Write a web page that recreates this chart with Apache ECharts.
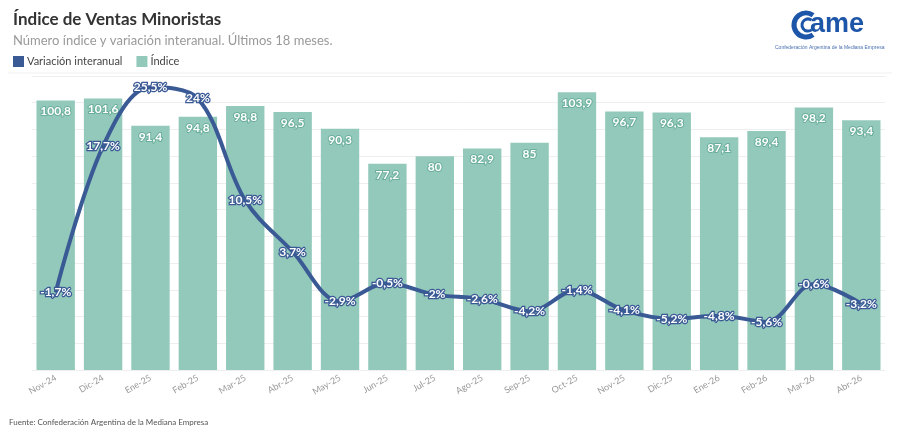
<!DOCTYPE html>
<html>
<head>
<meta charset="utf-8">
<script src="https://cdn.jsdelivr.net/npm/echarts@6/dist/echarts.min.js"></script>
<style>
  html, body { margin: 0; padding: 0; background: #fff; }
  #chart { width: 900px; height: 433px; }
</style>
</head>
<body>
<div id="chart"></div>
<script>
// datos
var meses = ['Nov-24', 'Dic-24', 'Ene-25', 'Feb-25', 'Mar-25', 'Abr-25', 'May-25', 'Jun-25', 'Jul-25',
    'Ago-25', 'Sep-25', 'Oct-25', 'Nov-25', 'Dic-25', 'Ene-26', 'Feb-26', 'Mar-26', 'Abr-26'];
var indice = [100.8, 101.6, 91.4, 94.8, 98.8, 96.5, 90.3, 77.2, 80, 82.9, 85, 103.9, 96.7, 96.3, 87.1, 89.4, 98.2, 93.4];
var variacion = [-1.7, 17.7, 25.5, 24, 10.5, 3.7, -2.9, -0.5, -2, -2.6, -4.2, -1.4, -4.1, -5.2, -4.8, -5.6, -0.6, -3.2];

var colorBarra = '#93c9bb';
var colorLinea = '#3a5a95';
var azulLogo = '#1d55a8';

function coma(v) {
    return String(v).replace('.', ',');
}

function iniciar(targetId) {
    var myChart = echarts.init(document.getElementById(targetId));
    myChart.setOption(opciones());
}

function opciones() {
    return {
        animation: false,
        textStyle: { fontFamily: 'Lato' },
        title: [{
            text: 'Índice de Ventas Minoristas',
            left: 8, top: 6,
            textStyle: { fontSize: 17, fontWeight: 'bold', color: '#333' }
        }, {
            text: 'Número índice y variación interanual. Últimos 18 meses.',
            left: 8, top: 29,
            textStyle: { fontSize: 13, fontWeight: 'normal', color: '#999' }
        }],
        legend: {
            left: 8, top: 51,
            icon: 'rect',
            itemWidth: 11, itemHeight: 11, itemGap: 14,
            textStyle: { fontSize: 11, color: '#444', padding: [0, 0, 0, -2] },
            data: ['Variación interanual', 'Índice']
        },
        graphic: [{
            type: 'line',
            shape: { x1: 8, y1: 73, x2: 892, y2: 73 },
            style: { stroke: '#f0f0f0', lineWidth: 1 }
        }, {
            // logo CAME: doble C y "ame"
            type: 'arc',
            shape: { cx: 806, cy: 25, r: 12, startAngle: Math.PI * 0.3, endAngle: Math.PI * 1.7, clockwise: true },
            style: { stroke: azulLogo, lineWidth: 5, fill: null }
        }, {
            type: 'arc',
            shape: { cx: 808, cy: 25, r: 6, startAngle: Math.PI * 0.3, endAngle: Math.PI * 1.7, clockwise: true },
            style: { stroke: azulLogo, lineWidth: 3, fill: null }
        }, {
            type: 'text',
            left: 810, top: 11,
            style: { text: 'ame', fontSize: 27, fontWeight: 'bold', fontFamily: 'Liberation Sans', fill: azulLogo }
        }, {
            type: 'text',
            left: 775, top: 45,
            style: { text: 'Confederación Argentina de la Mediana Empresa', fontSize: 5, fontFamily: 'Liberation Sans', fill: '#4a6fb0' }
        }, {
            type: 'text',
            left: 9, top: 418,
            style: { text: 'Fuente: Confederación Argentina de la Mediana Empresa', fontSize: 8, fontFamily: 'Lato', fill: '#555' }
        }],
        grid: { left: 32, right: 15, top: 76, bottom: 63 },
        xAxis: {
            type: 'category',
            data: meses,
            axisLine: { show: false },
            axisTick: { show: false },
            axisLabel: { rotate: 30, fontSize: 9, color: '#999', margin: 7 }
        },
        yAxis: [{
            type: 'value',
            min: 0, max: 110, interval: 10,
            axisLabel: { show: false },
            axisLine: { show: false },
            axisTick: { show: false },
            splitLine: { lineStyle: { color: '#eeeeee', width: 1 } }
        }, {
            type: 'value',
            min: -12, max: 27,
            show: false,
            splitLine: { show: false }
        }],
        series: [{
            name: 'Índice',
            type: 'bar',
            data: indice,
            barCategoryGap: '19%',
            itemStyle: { color: colorBarra },
            label: {
                show: true,
                position: 'insideTop',
                distance: 5,
                fontSize: 12,
                fontWeight: 'bold',
                color: '#fff',
                textBorderColor: '#6aae9b',
                textBorderWidth: 2,
                formatter: function (p) { return coma(p.value); }
            },
            z: 2
        }, {
            name: 'Variación interanual',
            type: 'line',
            yAxisIndex: 1,
            data: variacion,
            smooth: 0.35,
            symbol: 'circle',
            symbolSize: 1,
            showSymbol: true,
            lineStyle: { color: colorLinea, width: 4 },
            itemStyle: { color: colorLinea },
            label: {
                show: true,
                position: 'inside',
                fontSize: 12,
                fontWeight: 'bold',
                color: '#fff',
                textBorderColor: colorLinea,
                textBorderWidth: 2.5,
                formatter: function (p) { return coma(p.value) + '%'; }
            },
            z: 5
        }]
    };
}

iniciar('chart');
</script>
</body>
</html>
